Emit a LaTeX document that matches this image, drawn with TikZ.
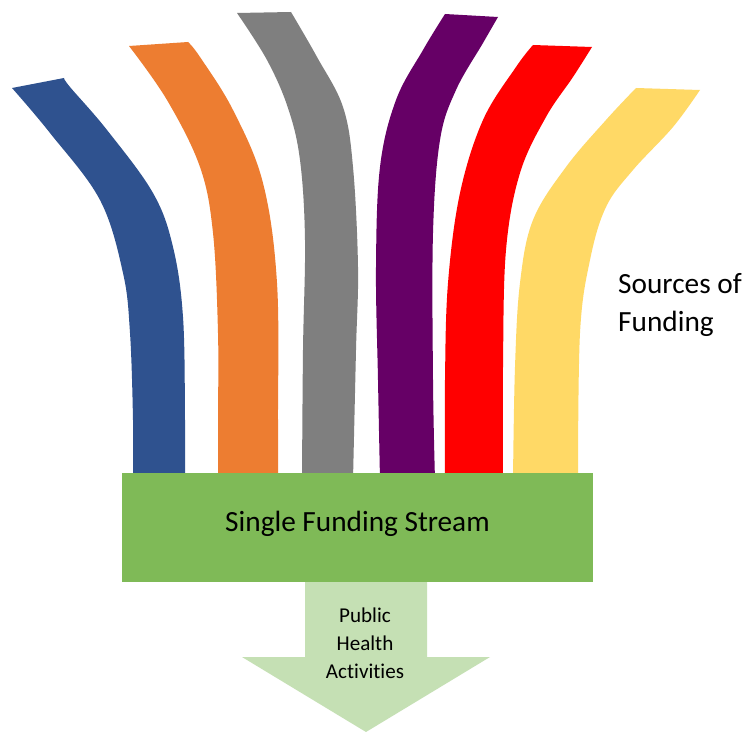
\documentclass[tikz,border=0pt]{standalone}
\usepackage{fontspec}
\setmainfont{Carlito}[Ligatures=NoCommon]
\usetikzlibrary{positioning}
\definecolor{fundblue}{HTML}{2F528F}
\definecolor{fundorange}{HTML}{ED7D31}
\definecolor{fundgray}{HTML}{7F7F7F}
\definecolor{fundpurple}{HTML}{660066}
\definecolor{fundred}{HTML}{FF0000}
\definecolor{fundyellow}{HTML}{FFD966}
\definecolor{streamgreen}{HTML}{7FBA57}
\definecolor{arrowgreen}{HTML}{C5E0B4}
\tikzstyle{strip} = [smooth, tension=0.6]
\tikzstyle{streambox} = [rectangle, fill=streamgreen, minimum width=14.13cm, minimum height=3.27cm, inner sep=0pt, text height=18pt, text depth=12pt, text centered, font=\fontsize{25}{30}\selectfont]
\tikzstyle{sourcetext} = [inner sep=0pt, font=\fontsize{25}{33}\selectfont, align=left]
\tikzstyle{outflow} = [fill=arrowgreen]

\begin{document}
\begin{tikzpicture}[x=0.03cm, y=-0.03cm]
\useasboundingbox[fill=white] (0,0) rectangle (746,732);

% Funding sources
\fill[fundblue] plot[strip] coordinates {(12,88) (50,133) (100,200) (123,273) (130,333) (133,420) (133,480)}
  -- plot[strip] coordinates {(185,480) (185,420) (183,317) (173,247) (153,193) (107,130) (70,87) (64,78)} -- cycle;
\fill[fundorange] plot[strip] coordinates {(129,46) (167,100) (200,167) (213,233) (218,333) (218,420) (218,480)}
  -- plot[strip] coordinates {(278,480) (278,420) (277,283) (263,183) (233,110) (200,57) (188,42)} -- cycle;
\fill[fundgray] plot[strip] coordinates {(237,13) (267,60) (288,108) (300,160) (305,240) (303,350) (302,480)}
  -- plot[strip] coordinates {(353,480) (356,350) (358,267) (353,167) (343,107) (317,57) (291,12)} -- cycle;
\fill[fundpurple] plot[strip] coordinates {(445,14) (423,50) (396,100) (380,167) (376,267) (378,380) (380,480)}
  -- plot[strip] coordinates {(435,480) (433,380) (433,233) (440,140) (456,90) (483,43) (498,17)} -- cycle;
\fill[fundred] plot[strip] coordinates {(533,45) (516,67) (483,120) (460,193) (448,283) (445,380) (445,480)}
  -- plot[strip] coordinates {(503,480) (503,367) (506,250) (520,173) (546,117) (573,77) (592,47)} -- cycle;
\fill[fundyellow] plot[strip] coordinates {(636,88) (606,120) (566,167) (533,220) (520,283) (515,367) (513,480)}
  -- plot[strip] coordinates {(578,480) (580,333) (590,260) (606,207) (633,170) (673,127) (700,90)} -- cycle;

\node (sources) [sourcetext, anchor=west] at (618,305) {Sources of\\Funding};

% Single stream
\node (stream) [streambox] at (357.5,527.5) {Single Funding Stream};

% Outflow arrow
\fill[outflow] (305,582) -- (427,582) -- (427,657) -- (490,657) -- (366,732) -- (242,657) -- (305,657) -- cycle;
\node (activities) [inner sep=0pt, align=center, font=\fontsize{18}{24}\selectfont] at (365,643) {Public\\Health\\Activities};

\end{tikzpicture}
\end{document}
